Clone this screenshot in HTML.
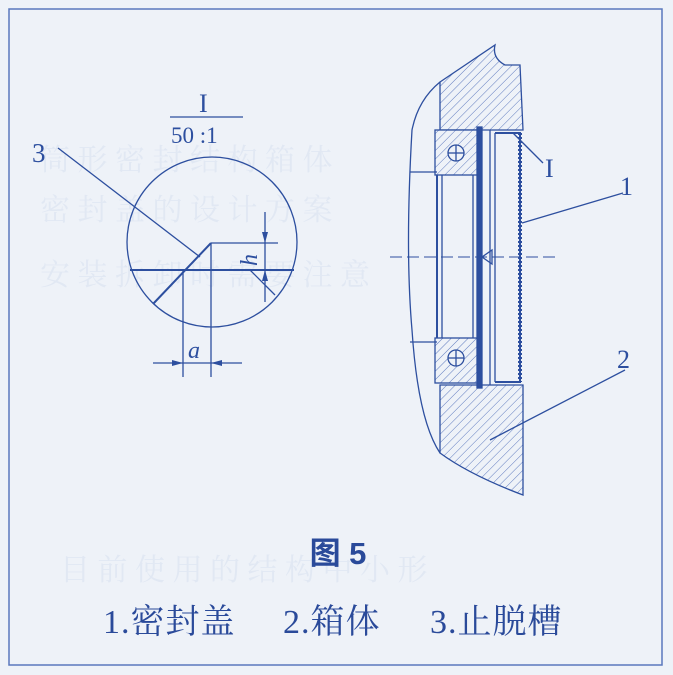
<!DOCTYPE html>
<html><head><meta charset="utf-8"><style>
html,body{margin:0;padding:0;background:#eef2f8;}
svg{display:block}
</style></head><body>
<svg width="673" height="675" viewBox="0 0 673 675" xmlns="http://www.w3.org/2000/svg">
<defs>
<pattern id="h" patternUnits="userSpaceOnUse" width="6" height="6" patternTransform="rotate(45)">
<rect width="6" height="6" fill="#eef2f8"/><line x1="0" y1="0" x2="0" y2="6" stroke="#5f7bbf" stroke-width="1"/>
</pattern>
</defs>
<rect x="0" y="0" width="673" height="675" fill="#eef2f8"/>
<rect x="9" y="9" width="653" height="656" fill="none" stroke="#5a78bd" stroke-width="1.5"/>
<g fill="#d3ddee" font-family="Liberation Serif, Noto Serif CJK SC, serif" font-size="30" opacity="0.45">
<text x="40" y="170">筒 形 密 封 结 构 箱 体</text>
<text x="40" y="220">密 封 盖 的 设 计 方 案</text>
<text x="40" y="285">安 装 拆 卸 时 需 要 注 意</text>
<text x="60" y="580">目 前 使 用 的 结 构 中 小 形</text>
</g>
<g stroke="#2d4f9f" fill="none" stroke-width="1.3">
<line x1="170" y1="117" x2="243" y2="117"/>
<circle cx="212" cy="242" r="85"/>
<line x1="130" y1="270" x2="294" y2="270" stroke-width="2"/>
<line x1="211" y1="243" x2="153" y2="304" stroke-width="2"/>
<line x1="211" y1="243" x2="211" y2="377"/>
<line x1="211" y1="243" x2="278" y2="243"/>
<line x1="183" y1="270" x2="183" y2="377"/>
<line x1="153" y1="363" x2="242" y2="363"/>
<line x1="265" y1="212" x2="265" y2="302"/>
<line x1="250" y1="270" x2="275" y2="295"/>
<line x1="58" y1="148" x2="200" y2="257"/>
</g>
<g fill="#2d4f9f">
<polygon points="183,363 172,360 172,366"/>
<polygon points="211,363 222,360 222,366"/>
<polygon points="265,243 262,232 268,232"/>
<polygon points="265,270 262,281 268,281"/>
</g>
<g font-family="Liberation Serif, serif" fill="#2d4f9f">
<text x="199" y="112" font-size="26">I</text>
<text x="171" y="143" font-size="23">50 :1</text>
<text x="32" y="162" font-size="27">3</text>
<text x="188" y="358" font-size="24" font-style="italic">a</text>
<text x="0" y="0" font-size="24" font-style="italic" transform="translate(257,266) rotate(-90)">h</text>
<text x="545" y="177" font-size="26">I</text>
<text x="620" y="195" font-size="26">1</text>
<text x="617" y="368" font-size="26">2</text>
</g>
<g stroke="#2d4f9f" stroke-width="1.3">
<path d="M440 82 L495 45 Q492 58 505 65 L520 65 L523 130 L440 130 Z" fill="url(#h)"/>
<path d="M440 385 L523 385 L523 495 Q470 475 440 453 Z" fill="url(#h)"/>
<path d="M440 82 Q418 100 412 130 Q405 250 412 330 Q418 420 440 453" fill="none"/>
<rect x="435" y="130" width="43" height="45" fill="url(#h)"/>
<rect x="435" y="338" width="43" height="45" fill="url(#h)"/>
<circle cx="456" cy="153" r="8" fill="#eef2f8"/>
<circle cx="456" cy="358" r="8" fill="#eef2f8"/>
<line x1="448" y1="153" x2="464" y2="153"/><line x1="456" y1="145" x2="456" y2="161"/>
<line x1="448" y1="358" x2="464" y2="358"/><line x1="456" y1="350" x2="456" y2="366"/>
<line x1="437" y1="175" x2="437" y2="338" stroke-width="2"/>
<line x1="442" y1="175" x2="442" y2="338"/>
<line x1="473" y1="175" x2="473" y2="338"/>
<rect x="477" y="127" width="5" height="261" fill="#2d4f9f"/>
<line x1="490" y1="130" x2="490" y2="385"/>
<line x1="495" y1="133" x2="495" y2="382"/>
<path d="M495 133 L520 133 L520 382 L495 382" fill="none" stroke-width="2"/>
<line x1="520" y1="133" x2="520" y2="382" stroke-width="4" stroke-dasharray="2 2"/>
<line x1="410" y1="172" x2="437" y2="172"/>
<line x1="410" y1="342" x2="437" y2="342"/>
<line x1="390" y1="257" x2="555" y2="257" stroke-dasharray="12 5" stroke-width="1"/>
<path d="M482 257 L492 250 L492 264 Z" fill="none"/>
<line x1="513" y1="133" x2="543" y2="163"/>
<line x1="623" y1="193" x2="522" y2="223"/>
<line x1="625" y1="370" x2="490" y2="440"/>
</g>
<g font-family="Liberation Serif, Noto Serif CJK SC, serif" fill="#2a4a9a">
<text x="338" y="564" font-size="31" font-weight="bold" text-anchor="middle" font-family="Liberation Sans, Noto Sans CJK SC, sans-serif">图 5</text>
<text x="103" y="633" font-size="34" letter-spacing="1">1.密封盖</text>
<text x="283" y="633" font-size="34" letter-spacing="1">2.箱体</text>
<text x="430" y="633" font-size="34" letter-spacing="1">3.止脱槽</text>
</g>
</svg>
</body></html>
